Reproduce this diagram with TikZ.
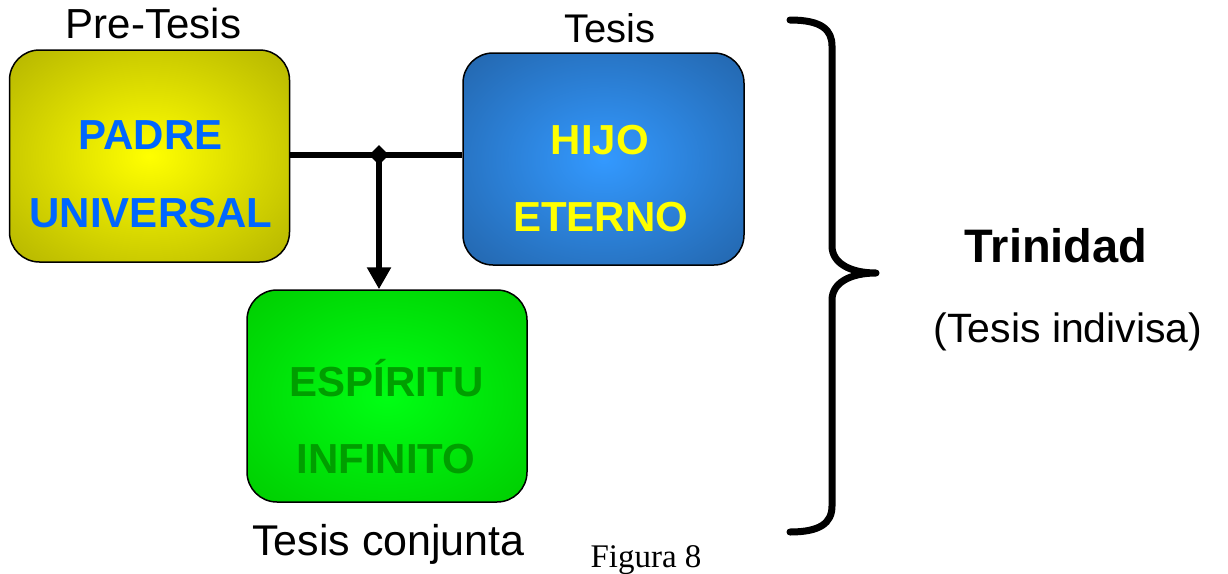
\documentclass[tikz,border=0pt]{standalone}
\usepackage{fontspec}
\setmainfont{Liberation Sans}
\newfontfamily\figserif{Liberation Serif}
\usetikzlibrary{arrows.meta,shapes.geometric}
\definecolor{padrein}{RGB}{255,255,0}
\definecolor{padreout}{RGB}{184,184,0}
\definecolor{hijoin}{RGB}{51,153,255}
\definecolor{hijoout}{RGB}{36,104,176}
\definecolor{espin}{RGB}{0,255,20}
\definecolor{espout}{RGB}{0,204,0}
\definecolor{padretext}{RGB}{0,102,255}
\definecolor{hijotext}{RGB}{255,255,0}
\definecolor{esptext}{RGB}{0,158,0}
\pgfdeclareradialshading{padreglow}{\pgfpointorigin}{color(0bp)=(padrein); color(34bp)=(padreout); color(50bp)=(padreout)}
\pgfdeclareradialshading{hijoglow}{\pgfpointorigin}{color(0bp)=(hijoin); color(34bp)=(hijoout); color(50bp)=(hijoout)}
\pgfdeclareradialshading{espglow}{\pgfpointorigin}{color(0bp)=(espin); color(36bp)=(espout); color(50bp)=(espout)}
\tikzset{
  box/.style={draw=black, line width=1.5pt, rounded corners=30pt, inner sep=0pt},
  boxtext/.style={anchor=base, inner sep=0pt, font=\fontsize{42}{50}\selectfont\bfseries},
  label/.style={anchor=base, inner sep=0pt, font=\fontsize{42}{50}\selectfont},
  conn/.style={line width=6.5pt},
}
\begin{document}
\begin{tikzpicture}[x=1pt,y=-1pt]
\useasboundingbox (0,0) rectangle (1228,573);
% boxes
\node[box, shading=padreglow, minimum width=280pt, minimum height=212pt] (padre) at (149.5,156) {};
\node[box, shading=hijoglow, minimum width=281pt, minimum height=212pt] (hijo) at (603.5,159) {};
\node[box, shading=espglow, minimum width=280pt, minimum height=212pt] (esp) at (387,396) {};
% box texts
\node[boxtext, text=padretext] (t1) at (150.5,149) {PADRE};
\node[boxtext, text=padretext] (t2) at (151,227) {UNIVERSAL};
\node[boxtext, text=hijotext] (t3) at (600,154) {HIJO};
\node[boxtext, text=hijotext] (t4) at (600.5,231) {ETERNO};
\node[boxtext, text=esptext] (t5) at (386.5,396) {ESPÍRITU};
\node[boxtext, text=esptext] (t6) at (386,473) {INFINITO};
% labels
\node[label] (pre) at (153.5,38) {Pre-Tesis};
\node[label, font=\fontsize{40}{48}\selectfont] (tes) at (610,42) {Tesis};
\node[label, font=\fontsize{43}{52}\selectfont] (conj) at (388.5,555) {Tesis conjunta};
\node[label, font=\fontsize{47}{56}\selectfont\bfseries] (trin) at (1056,262) {Trinidad};
\node[label, font=\fontsize{41}{49}\selectfont] (indiv) at (1068,342) {(Tesis indivisa)};
\node[label, font=\fontsize{33}{40}\selectfont\figserif] (fig) at (646,567) {Figura 8};
% connectors
\node[diamond, fill=black, inner sep=0pt, minimum size=20pt] (j) at (379,155) {};
\draw[conn] (padre.east |- j) -- (j.center) -- (hijo.west |- j);
\draw[conn, -{Triangle[width=23pt,length=22pt]}] (j.center) -- (j |- esp.north);
% brace
\draw[line width=7pt, line cap=round, line join=round]
  (790,20) .. controls (822,20) and (832,30) .. (832,46)
  -- (832,246) .. controls (832,263) and (850,273) .. (876,273)
  .. controls (850,273) and (832,283) .. (832,300)
  -- (832,506) .. controls (832,523) and (820,532) .. (790,532);
\end{tikzpicture}
\end{document}
